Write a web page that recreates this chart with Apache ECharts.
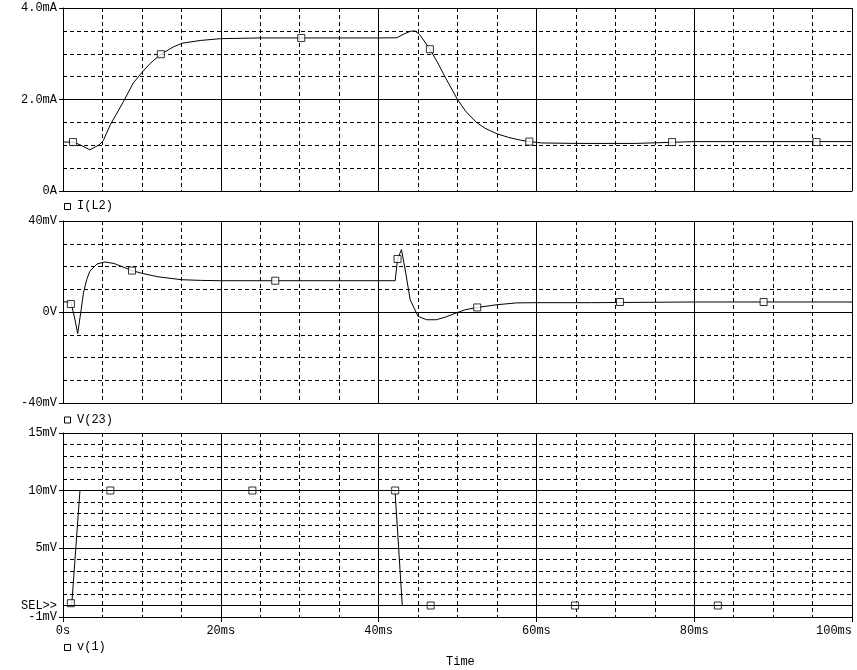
<!DOCTYPE html>
<html>
<head>
<meta charset="utf-8">
<script src="https://cdn.jsdelivr.net/npm/echarts@6/dist/echarts.min.js"></script>
<style>
html,body{margin:0;padding:0;background:#fff;}
#chart{width:857px;height:670px;}
</style>
</head>
<body>
<div id="chart"></div>
<script>
// ---- Data (time in ms) ----
// I(L2) in mA
const tI = [0, 1.3, 2.15, 3.4, 4.6, 5.1, 6, 7, 7.8, 8.9, 10.1, 11, 12.4, 14, 15.1, 17.4, 20, 25, 30, 35, 40, 42.3, 43.2, 44, 44.6, 45.2, 46.5, 47.5, 48.4, 50, 51, 52.4, 53.5, 55, 56.5, 58, 59.1, 60.7, 65, 70, 72.6, 72.8, 80, 90, 100];
const iL2 = [1.07, 1.07, 1.01, 0.90, 1.01, 1.10, 1.45, 1.75, 2.0, 2.36, 2.61, 2.78, 2.99, 3.15, 3.23, 3.29, 3.33, 3.345, 3.345, 3.345, 3.345, 3.35, 3.43, 3.49, 3.50, 3.42, 3.10, 2.80, 2.50, 2.0, 1.75, 1.50, 1.37, 1.25, 1.17, 1.11, 1.08, 1.05, 1.04, 1.04, 1.04, 1.08, 1.08, 1.08, 1.08];
const mkIt = [1.27, 12.4, 30.2, 46.5, 59.1, 77.2, 95.5];
const mkIv = [1.07, 2.99, 3.345, 3.10, 1.08, 1.07, 1.07];

// V(23) in mV
const tV = [0, 1.0, 1.15, 1.5, 1.86, 2.3, 2.6, 3.0, 3.4, 4.3, 5.3, 6.5, 8.75, 10, 12, 15, 17.4, 20, 30, 42.1, 42.4, 42.9, 43.4, 44, 45, 46.1, 47.3, 48.5, 50, 51, 52.5, 55, 57.5, 60, 67, 67.1, 80, 100];
const v23 = [4.5, 4.3, 4.0, -3, -9.5, 1.0, 8.5, 14.2, 17.9, 21.1, 22.0, 21.3, 18.2, 17.0, 15.5, 14.2, 13.9, 13.75, 13.75, 13.75, 23.3, 27.4, 18.0, 5.4, -1.9, -3.4, -3.4, -2.2, -0.2, 1.0, 2.0, 3.2, 4.0, 4.1, 4.1, 4.4, 4.4, 4.4];
const mkVt = [1.0, 8.75, 26.9, 42.4, 52.5, 70.6, 88.8];
const mkVv = [3.5, 18.2, 13.75, 23.3, 2.0, 4.4, 4.4];

// v(1) in mV
const t1 = [0, 1.1, 2.15, 42.08, 43.0, 100];
const v1 = [0, 0, 10, 10, 0, 0];
const mk1t = [1.0, 6.0, 24.0, 42.1, 46.6, 64.9, 83.0];
const mk1v = [0.2, 10, 10, 10, 0, 0, 0];

// tick labels
const xTickLabels = {0:'0s', 20:'20ms', 40:'40ms', 60:'60ms', 80:'80ms', 100:'100ms'};
const y1Labels = {0:'0A', 2:'2.0mA', 4:'4.0mA'};
const y2Labels = {'-40':'-40mV', 0:'0V', 40:'40mV'};
const y3Labels = {'-1':'-1mV', 5:'5mV', 10:'10mV', 15:'15mV'};
const y3TickValues = [-1, 5, 10, 15];
const selLabel = 'SEL>>';
const selValues = [0];
const legendNames = ['I(L2)', 'V(23)', 'v(1)'];
const xName = 'Time';

// ---- Chart ----
const FONT = 'Liberation Mono';
const pairs = (t, v) => t.map((x, i) => [x, v[i]]);
const dashed = {color:'#000', type:[4,3], width:1};
const solid = {color:'#000', type:'solid', width:1};

const grids = [
  {left:63, top:8, width:789, height:183, outerBoundsMode:'none', containLabel:false},
  {left:63, top:221, width:789, height:182, outerBoundsMode:'none', containLabel:false},
  {left:63, top:433, width:789, height:184, outerBoundsMode:'none', containLabel:false}
];

function xMinor(gi){
  return {type:'value', gridIndex:gi, position:'bottom', min:0, max:100, interval:5,
    axisLine:{show:true, onZero:false, lineStyle:{color:'#000', width:1}},
    axisTick:{show:false}, axisLabel:{show:false},
    splitLine:{show:true, lineStyle:dashed}};
}
function xMajor(gi, showLabels){
  return {type:'value', gridIndex:gi, position:'bottom', min:0, max:100, interval:20,
    axisLine:{show:false, onZero:false},
    axisTick:{show:showLabels, length:5, lineStyle:{color:'#000'}},
    axisLabel:{show:showLabels, margin:8, color:'#000', fontFamily:FONT, fontSize:12,
      showMinLabel:true, showMaxLabel:true, hideOverlap:false, alignMaxLabel:'right',
      formatter:v => xTickLabels[v] !== undefined ? xTickLabels[v] : ''},
    splitLine:{show:true, lineStyle:solid}};
}
function yMinor(gi, min, max, interval){
  return {type:'value', gridIndex:gi, position:'left', min:min, max:max, interval:interval,
    axisLine:{show:true, onZero:false, lineStyle:{color:'#000', width:1}},
    axisTick:{show:false}, axisLabel:{show:false},
    splitLine:{show:true, lineStyle:dashed}};
}
function yMajor(gi, min, max, interval, labels){
  return {type:'value', gridIndex:gi, position:'left', min:min, max:max, interval:interval,
    axisLine:{show:false, onZero:false},
    axisTick:{show:true, length:4, lineStyle:{color:'#000'}},
    axisLabel:{show:true, margin:6, color:'#000', fontFamily:FONT, fontSize:12,
      showMinLabel:true, showMaxLabel:true, hideOverlap:false,
      formatter:v => labels[v] !== undefined ? labels[v] : ''},
    splitLine:{show:true, lineStyle:solid}};
}
const y3major = {type:'value', gridIndex:2, position:'left', min:-1, max:15,
  axisLine:{show:false, onZero:false},
  axisTick:{show:true, length:4, lineStyle:{color:'#000'}, customValues:y3TickValues},
  axisLabel:{show:true, margin:6, color:'#000', fontFamily:FONT, fontSize:12,
    showMinLabel:true, showMaxLabel:true, hideOverlap:false,
    customValues:y3TickValues,
    formatter:v => y3Labels[v] !== undefined ? y3Labels[v] : ''},
  splitLine:{show:false}};
const y3sel = {type:'value', gridIndex:2, position:'left', min:-1, max:15,
  axisLine:{show:false, onZero:false},
  axisTick:{show:false, customValues:selValues},
  axisLabel:{show:true, margin:6, color:'#000', fontFamily:FONT, fontSize:12,
    showMinLabel:true, showMaxLabel:true, hideOverlap:false,
    customValues:selValues, formatter:() => selLabel},
  splitLine:{show:false}};

function lineSeries(xi, yi, data, extra){
  return Object.assign({type:'line', xAxisIndex:xi, yAxisIndex:yi, data:data,
    showSymbol:false, symbol:'none', lineStyle:{color:'#000', width:1},
    animation:false, silent:true, z:2}, extra || {});
}
function markSeries(xi, yi, data){
  return {type:'scatter', xAxisIndex:xi, yAxisIndex:yi, data:data, symbol:'rect', symbolSize:7,
    itemStyle:{color:'#fff', borderColor:'#000', borderWidth:1}, animation:false, silent:true, z:3};
}

function legendGraphic(y, name){
  return [
    {type:'rect', left:64, top:y-3, shape:{width:6, height:6},
      style:{fill:'#fff', stroke:'#000', lineWidth:1}},
    {type:'text', left:77, top:y-6,
      style:{text:name, fill:'#000', font:'12px "' + FONT + '"'}}
  ];
}

const option = {
  backgroundColor:'#fff',
  animation:false,
  grid:grids,
  xAxis:[xMinor(0), xMajor(0,false), xMinor(1), xMajor(1,false), xMinor(2), xMajor(2,true)],
  yAxis:[yMinor(0,0,4,0.5), yMajor(0,0,4,2,y1Labels),
         yMinor(1,-40,40,10), yMajor(1,-40,40,40,y2Labels),
         yMinor(2,-1,15,1), y3major, y3sel],
  series:[
    lineSeries(0,0,pairs(tI,iL2)),
    markSeries(0,0,pairs(mkIt,mkIv)),
    lineSeries(2,2,pairs(tV,v23)),
    markSeries(2,2,pairs(mkVt,mkVv)),
    lineSeries(4,4,pairs(t1,v1), {markLine:{silent:true, symbol:['none','none'], animation:false,
      label:{show:false}, lineStyle:solid,
      data:[{yAxis:0},{yAxis:5},{yAxis:10},{yAxis:15}]}}),
    markSeries(4,4,pairs(mk1t,mk1v))
  ],
  graphic:[].concat(
    legendGraphic(206, legendNames[0]),
    legendGraphic(419.5, legendNames[1]),
    legendGraphic(647, legendNames[2]),
    [{type:'text', left:446, top:656, style:{text:xName, fill:'#000', font:'12px "' + FONT + '"'}}]
  )
};

const chart = echarts.init(document.getElementById('chart'), null, {renderer:'canvas'});
chart.setOption(option);
</script>
</body>
</html>
